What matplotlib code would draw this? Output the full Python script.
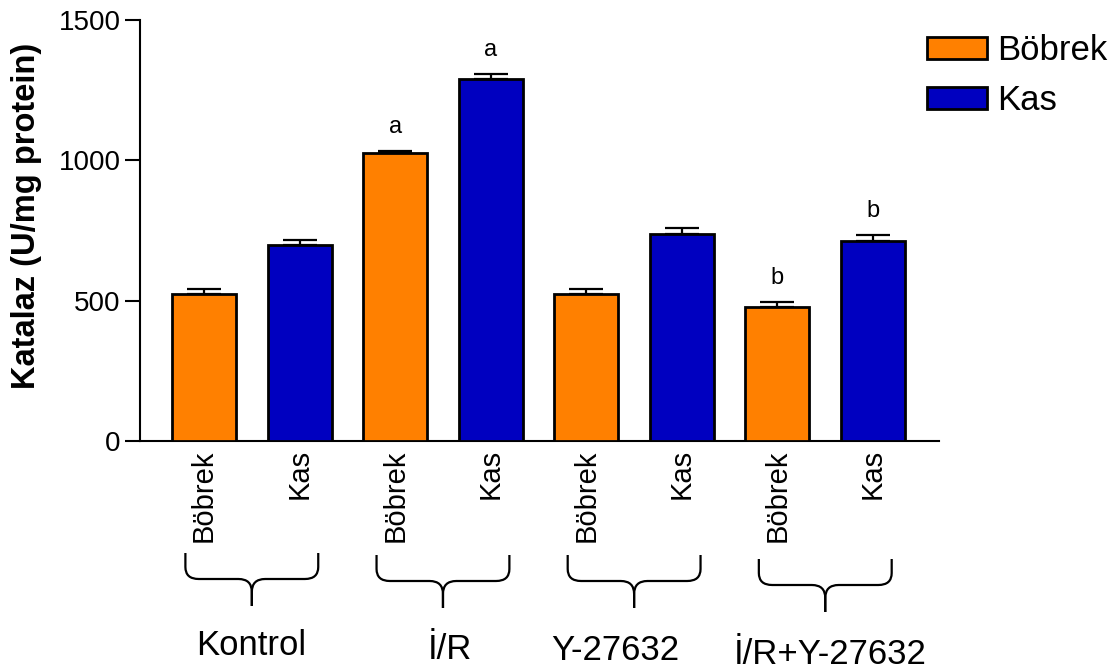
import matplotlib.pyplot as plt
import matplotlib.transforms as mtransforms
from matplotlib.path import Path
from matplotlib.patches import PathPatch
import numpy as np

groups = ['Kontrol', 'İ/R', 'Y-27632', 'İ/R+Y-27632']
tissues = ['Böbrek', 'Kas']
bobrek = [523, 1027, 523, 478]
bobrek_err = [17, 7, 20, 16]
kas = [697, 1289, 737, 714]
kas_err = [18, 17, 22, 19]
letters_bobrek = ['', 'a', '', 'b']
letters_kas = ['', 'a', '', 'b']

orange = '#FF8000'
blue = '#0000C0'

plt.rcParams['font.family'] = ['Liberation Sans', 'DejaVu Sans']

dpi = 100
fig = plt.figure(figsize=(1119 / dpi, 671 / dpi), dpi=dpi)
ax = fig.add_axes([140 / 1119, 1 - 441 / 671, 799 / 1119, 421 / 671])

n = len(groups)
xb = np.arange(n) * 2
xk = xb + 1
w = 0.67

ax.bar(xb, bobrek, w, color=orange, edgecolor='black', linewidth=2, label=tissues[0], zorder=3)
ax.bar(xk, kas, w, color=blue, edgecolor='black', linewidth=2, label=tissues[1], zorder=3)
ax.errorbar(xb, bobrek, yerr=[np.zeros(n), bobrek_err], fmt='none', ecolor='black',
            elinewidth=1.6, capsize=12, capthick=1.6, zorder=2)
ax.errorbar(xk, kas, yerr=[np.zeros(n), kas_err], fmt='none', ecolor='black',
            elinewidth=1.6, capsize=12, capthick=1.6, zorder=2)

# significance letters
for xs, vals, errs, labs in [(xb, bobrek, bobrek_err, letters_bobrek), (xk, kas, kas_err, letters_kas)]:
    for x, v, e, t in zip(xs, vals, errs, labs):
        if t:
            ax.annotate(t, (x, v + e), xytext=(0, 13), textcoords='offset points',
                        ha='center', va='baseline', fontsize=17)

ax.set_xlim(-0.67, 2 * n - 1 + 0.69)
ax.set_ylim(0, 1500)
ax.set_yticks([0, 500, 1000, 1500])
ax.tick_params(axis='y', labelsize=20, length=11, width=1.5, pad=3)

ticks = np.sort(np.concatenate([xb, xk]))
ax.set_xticks(ticks)
ax.set_xticklabels([tissues[i % 2] for i in range(2 * n)], rotation=90, fontsize=21)
ax.tick_params(axis='x', length=0, pad=6)

for s in ['top', 'right']:
    ax.spines[s].set_visible(False)
for s in ['left', 'bottom']:
    ax.spines[s].set_linewidth(1.5)

ax.set_ylabel('Katalaz (U/mg protein)', fontsize=23.5, fontweight='bold')
ax.yaxis.set_label_coords(-0.123, 0.535)

ax.legend(loc='upper left', bbox_to_anchor=(927 / 1119, 1 - 34 / 671),
          bbox_transform=fig.transFigure, frameon=False, fontsize=25,
          handlelength=1.73, handleheight=0.6, handletextpad=0.3,
          labelspacing=0.5, borderpad=0, borderaxespad=0)

# braces under each group
trans = mtransforms.blended_transform_factory(ax.transData, fig.transFigure)


def fy(p):
    return 1 - p / 671


def brace(c, half, shift):
    yt, y1, ym, y2, yb = [fy(p + shift) for p in (553, 567, 579, 592, 606)]
    r = 0.14
    for side in (-1, 1):
        xe = c + side * half
        verts = [(xe, yt), (xe, y1), (xe, ym), (xe - side * r, ym),
                 (c + side * r, ym), (c, ym), (c, y2), (c, yb)]
        codes = [Path.MOVETO, Path.LINETO, Path.CURVE3, Path.CURVE3,
                 Path.LINETO, Path.CURVE3, Path.CURVE3, Path.LINETO]
        ax.add_patch(PathPatch(Path(verts, codes), transform=trans, fill=False,
                               lw=1.6, edgecolor='black', clip_on=False))


shifts = [0, 2, 2, 6]
label_base = [655, 659, 660, 664]
label_dx = [-1, 7, -19, 5]
for i, g in enumerate(groups):
    c = (xb[i] + xk[i]) / 2
    brace(c, 0.695, shifts[i])
    off = mtransforms.ScaledTranslation(label_dx[i] / dpi, 0, fig.dpi_scale_trans)
    ax.text(c, fy(label_base[i]), g, transform=trans + off, ha='center', va='baseline', fontsize=25)

fig.savefig('out.png', dpi=dpi)
